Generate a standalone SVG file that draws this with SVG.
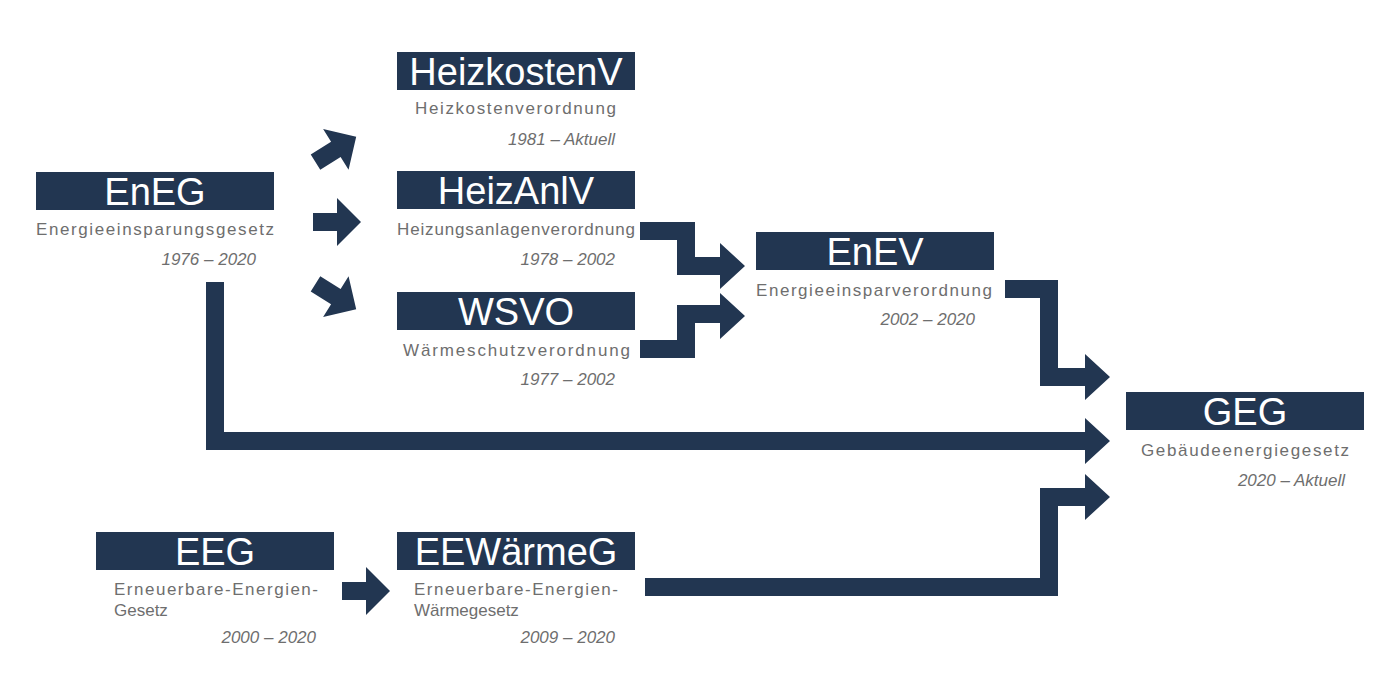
<svg xmlns="http://www.w3.org/2000/svg" width="1400" height="700" viewBox="0 0 1400 700">
<style>
.box{fill:#223651}
.h{font-family:"Liberation Sans",Arial,sans-serif;font-size:38px;fill:#fff;text-anchor:middle}
.s{font-family:"Liberation Sans",Arial,sans-serif;font-size:17px;fill:#6e6e6e}
.d{font-family:"Liberation Sans",Arial,sans-serif;font-size:17px;fill:#6e6e6e;font-style:italic;text-anchor:end}
.c{fill:#223651}
</style>
<defs>
<path id="sa" d="M-23,-9 H1 V-24 L25,0 L1,24 V9 H-23 Z"/>
</defs>
<rect width="1400" height="700" fill="#fff"/>
<g id="connectors" class="c">
<use href="#sa" transform="translate(336,222)"/>
<use href="#sa" transform="translate(335,150) rotate(-32)"/>
<use href="#sa" transform="translate(335,296) rotate(32)"/>
<use href="#sa" transform="translate(365,591)"/>
<path d="M640,222 H695 V257 H720 V243 L745,266 L720,289 V275 H677 V240 H640 Z"/>
<path d="M640,340 H677 V305 H720 V293 L745,316 L720,339 V323 H695 V358 H640 Z"/>
<path d="M1005,280 H1058 V368 H1085 V354 L1110,377 L1085,400 V386 H1040 V298 H1005 Z"/>
<path d="M206,282 H224 V432 H1085 V418 L1110,441 L1085,464 V450 H206 Z"/>
<path d="M645,578 H1040 V488 H1085 V474 L1110,497 L1085,520 V506 H1058 V596 H645 Z"/>
</g>
<g id="EnEG"><rect class="box" x="36" y="172" width="238" height="38"/><text class="h" x="155" y="205">EnEG</text>
<text class="s" x="36" y="235" textLength="238">Energieeinsparungsgesetz</text><text class="d" x="256" y="265">1976 – 2020</text></g>
<g id="HeizkostenV"><rect class="box" x="397" y="52" width="238" height="38"/><text class="h" x="516" y="85">HeizkostenV</text>
<text class="s" x="415" y="114" textLength="201">Heizkostenverordnung</text><text class="d" x="615" y="145">1981 – Aktuell</text></g>
<g id="HeizAnlV"><rect class="box" x="397" y="171" width="238" height="38"/><text class="h" x="516" y="204">HeizAnlV</text>
<text class="s" x="397" y="235" textLength="238">Heizungsanlagenverordnung</text><text class="d" x="615" y="265">1978 – 2002</text></g>
<g id="WSVO"><rect class="box" x="397" y="292" width="238" height="38"/><text class="h" x="516" y="325">WSVO</text>
<text class="s" x="403" y="356" textLength="227">Wärmeschutzverordnung</text><text class="d" x="615" y="385">1977 – 2002</text></g>
<g id="EnEV"><rect class="box" x="756" y="232" width="238" height="38"/><text class="h" x="875" y="265">EnEV</text>
<text class="s" x="756" y="296" textLength="236">Energieeinsparverordnung</text><text class="d" x="975" y="325">2002 – 2020</text></g>
<g id="GEG"><rect class="box" x="1126" y="392" width="238" height="38"/><text class="h" x="1245" y="425">GEG</text>
<text class="s" x="1141" y="456" textLength="208">Gebäudeenergiegesetz</text><text class="d" x="1345" y="486">2020 – Aktuell</text></g>
<g id="EEG"><rect class="box" x="96" y="532" width="238" height="38"/><text class="h" x="215" y="565">EEG</text>
<text class="s" x="114" y="595" textLength="204">Erneuerbare-Energien-</text><text class="s" x="114" y="616">Gesetz</text><text class="d" x="316" y="643">2000 – 2020</text></g>
<g id="EEWaermeG"><rect class="box" x="397" y="532" width="238" height="38"/><text class="h" x="516" y="565">EEWärmeG</text>
<text class="s" x="414" y="595" textLength="204">Erneuerbare-Energien-</text><text class="s" x="414" y="616">Wärmegesetz</text><text class="d" x="615" y="643">2009 – 2020</text></g>
</svg>
